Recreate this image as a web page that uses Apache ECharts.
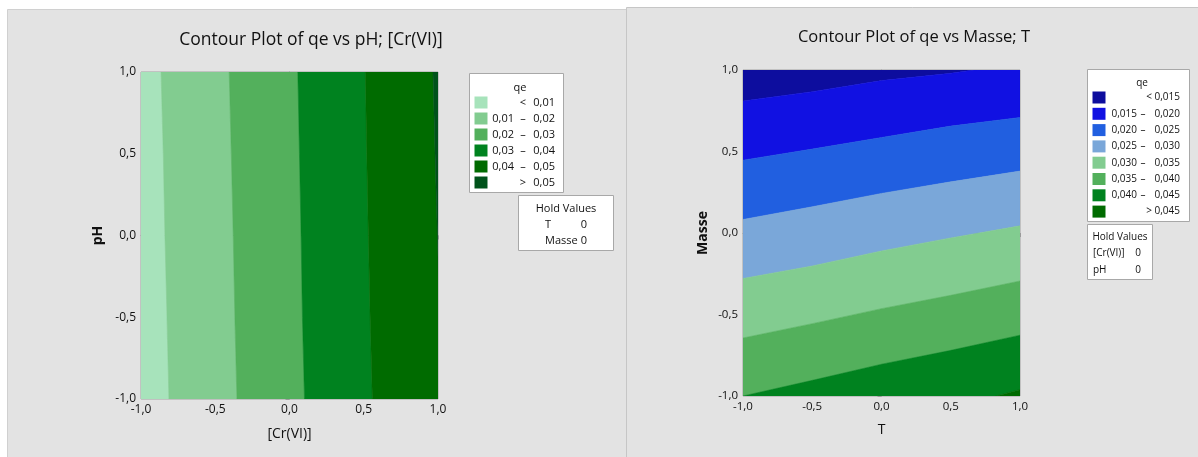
<!DOCTYPE html>
<html>
<head>
<meta charset="utf-8">
<script src="https://cdn.jsdelivr.net/npm/echarts@6/dist/echarts.min.js"></script>
<style>
html,body{margin:0;padding:0;background:#fff;}
#c{width:1198px;height:457px;}
</style>
</head>
<body>
<div id="c"></div>
<script>
// ---------- DATA ----------
const tickValues = [-1, -0.5, 0, 0.5, 1];
const tickLabels = ['-1,0', '-0,5', '0,0', '0,5', '1,0'];

// Left plot: x = [Cr(VI)], y = pH. Contour boundaries given as x-values at each pH level
const pHLevels = [-1, -0.5, 0, 0.5, 1];
const crBoundaries = [
  [-0.812, -0.825, -0.839, -0.850, -0.865],
  [-0.354, -0.368, -0.379, -0.392, -0.406],
  [0.101, 0.087, 0.078, 0.067, 0.056],
  [0.558, 0.543, 0.531, 0.520, 0.511],
  [1.025, 1.011, 0.996, 0.980, 0.966]
];
const leftColors = ['#a7e3bb', '#82cc90', '#53b05c', '#00821f', '#006b00', '#00521a'];
const leftLegend = [['', '<', '0,01'], ['0,01', '–', '0,02'], ['0,02', '–', '0,03'], ['0,03', '–', '0,04'], ['0,04', '–', '0,05'], ['', '>', '0,05']];
const leftHold = [['T', '0'], ['Masse', '0']];

// Right plot: x = T, y = Masse. Contour boundaries given as Masse-values at each T level (top to bottom)
const tLevels = [-1, -0.5, 0, 0.5, 1];
const masseBoundaries = [
  [0.810, 0.867, 0.935, 0.980, 1.040],
  [0.447, 0.515, 0.586, 0.656, 0.709],
  [0.083, 0.161, 0.243, 0.314, 0.380],
  [-0.279, -0.202, -0.110, -0.030, 0.044],
  [-0.644, -0.556, -0.464, -0.382, -0.294],
  [-1.000, -0.904, -0.805, -0.720, -0.627],
  [-1.420, -1.300, -1.190, -1.076, -0.961]
];
const rightColors = ['#0d0d9e', '#1111e2', '#215fe0', '#7aa7d9', '#82cc90', '#53b05c', '#00821f', '#006b00'];
const rightLegend = [['', '<', '0,015'], ['0,015', '–', '0,020'], ['0,020', '–', '0,025'], ['0,025', '–', '0,030'], ['0,030', '–', '0,035'], ['0,035', '–', '0,040'], ['0,040', '–', '0,045'], ['', '>', '0,045']];
const rightHold = [['[Cr(VI)]', '0'], ['pH', '0']];

// ---------- BUILD ----------
const FONT = '"Open Sans", "Noto Sans", sans-serif';

function leftPolys() {
  const polys = [];
  const n = crBoundaries.length;
  for (let i = 0; i <= n; i++) {
    const L = i === 0 ? pHLevels.map(() => -1.3) : crBoundaries[i - 1];
    const R = i === n ? pHLevels.map(() => 1.3) : crBoundaries[i];
    const pts = [];
    pHLevels.forEach((y, k) => pts.push([L[k], y]));
    for (let k = pHLevels.length - 1; k >= 0; k--) pts.push([R[k], pHLevels[k]]);
    polys.push(pts);
  }
  return polys;
}
function rightPolys() {
  const polys = [];
  const n = masseBoundaries.length;
  for (let i = 0; i <= n; i++) {
    const T = i === 0 ? tLevels.map(() => 1.6) : masseBoundaries[i - 1];
    const B = i === n ? tLevels.map(() => -1.6) : masseBoundaries[i];
    const pts = [];
    tLevels.forEach((x, k) => pts.push([x, T[k]]));
    for (let k = tLevels.length - 1; k >= 0; k--) pts.push([tLevels[k], B[k]]);
    polys.push(pts);
  }
  return polys;
}
const LP = leftPolys(), RP = rightPolys();

function contourSeries(idx, polys, colors) {
  return {
    type: 'custom', xAxisIndex: idx, yAxisIndex: idx, clip: true,
    data: polys.map((p, i) => [i, 0]),
    renderItem: function (params, api) {
      const i = params.dataIndex;
      const pts = polys[i].map(p => api.coord(p));
      return {type: 'polygon', shape: {points: pts},
        style: {fill: colors[i], stroke: colors[i], lineWidth: 0.5}};
    }
  };
}

function fmt(v) {
  const i = tickValues.findIndex(t => Math.abs(t - v) < 1e-9);
  return i >= 0 ? tickLabels[i] : '';
}
function axis(name, gap, bold, size) {
  return {
    type: 'value', min: -1, max: 1, interval: 0.5,
    name: name, nameLocation: 'middle', nameGap: gap,
    nameTextStyle: {fontFamily: FONT, fontSize: 14, color: '#111', fontWeight: bold ? 'bold' : 'normal'},
    axisLine: {show: true, lineStyle: {color: '#9a9a9a'}},
    axisTick: {show: true, length: 4, lineStyle: {color: '#9a9a9a'}},
    axisLabel: {formatter: fmt, fontFamily: FONT, fontSize: size, color: '#111', margin: 5},
    splitLine: {show: false}
  };
}

function legendGraphics(box, title, rows, colors, rowH, hold, holdBox, cols) {
  const F = cols.fs + 'px ' + FONT;
  const g = [];
  g.push({type: 'rect', shape: {x: box.x, y: box.y, width: box.w, height: box.h},
    style: {fill: '#ffffff', stroke: '#a8a8a8', lineWidth: 1}, z: 5});
  g.push({type: 'text', x: cols.title, y: box.y + 14, z: 6,
    style: {text: title, font: F, fill: '#111', align: 'center', verticalAlign: 'middle'}});
  rows.forEach((r, i) => {
    const cy = box.y + cols.firstRow + i * rowH;
    g.push({type: 'rect', shape: {x: box.x + 5, y: cy - 6, width: 13, height: 12},
      style: {fill: colors[i]}, z: 6});
    if (r[0]) {
      g.push({type: 'text', x: cols.a, y: cy, z: 6,
        style: {text: r[0], font: F, fill: '#111', align: 'right', verticalAlign: 'middle'}});
      g.push({type: 'text', x: cols.b, y: cy, z: 6,
        style: {text: r[1], font: F, fill: '#111', align: 'center', verticalAlign: 'middle'}});
    } else {
      g.push({type: 'text', x: cols.sym, y: cy, z: 6,
        style: {text: r[1], font: F, fill: '#111', align: 'center', verticalAlign: 'middle'}});
    }
    g.push({type: 'text', x: cols.c, y: cy, z: 6,
      style: {text: r[2], font: F, fill: '#111', align: 'right', verticalAlign: 'middle'}});
  });
  g.push({type: 'rect', shape: {x: holdBox.x, y: holdBox.y, width: holdBox.w, height: holdBox.h},
    style: {fill: '#ffffff', stroke: '#a8a8a8', lineWidth: 1}, z: 5});
  g.push({type: 'text', x: holdBox.x + holdBox.w / 2, y: holdBox.y + 13, z: 6,
    style: {text: 'Hold Values', font: F, fill: '#111', align: 'center', verticalAlign: 'middle'}});
  hold.forEach((h, i) => {
    const cy = holdBox.y + 29 + i * 16.5;
    g.push({type: 'text', x: holdBox.nameX, y: cy, z: 6,
      style: {text: h[0], font: F, fill: '#111', align: 'left', verticalAlign: 'middle'}});
    g.push({type: 'text', x: holdBox.valX, y: cy, z: 6,
      style: {text: h[1], font: F, fill: '#111', align: 'center', verticalAlign: 'middle'}});
  });
  return g;
}

const graphics = [
  {type: 'rect', shape: {x: 7.5, y: 9.5, width: 619, height: 450}, style: {fill: '#e3e3e3', stroke: '#d0d0d0', lineWidth: 1}, z: -10},
  {type: 'rect', shape: {x: 626.5, y: 7.5, width: 575, height: 452}, style: {fill: '#e3e3e3', stroke: '#c6c6c6', lineWidth: 1}, z: -9}
].concat(
  legendGraphics({x: 469.5, y: 73.5, w: 94, h: 119}, 'qe', leftLegend, leftColors, 16, leftHold,
    {x: 518.5, y: 195.5, w: 95, h: 55, nameX: 545, valX: 584},
    {title: 520, firstRow: 29, a: 514, b: 523, sym: 523, c: 555, fs: 11}),
  legendGraphics({x: 1087.5, y: 69.5, w: 102, h: 152}, 'qe', rightLegend, rightColors, 16.3, rightHold,
    {x: 1087.5, y: 224.5, w: 65, h: 55, nameX: 1093, valX: 1138},
    {title: 1142, firstRow: 28, a: 1137, b: 1143, sym: 1149, c: 1180, fs: 10})
);

const option = {
  animation: false,
  backgroundColor: '#ffffff',
  title: [
    {text: 'Contour Plot of qe vs pH; [Cr(VI)]', left: 311, top: 31, padding: 0, textAlign: 'center',
      textStyle: {fontFamily: FONT, fontSize: 17.5, fontWeight: 'normal', color: '#111'}},
    {text: 'Contour Plot of qe vs Masse; T', left: 914, top: 29, padding: 0, textAlign: 'center',
      textStyle: {fontFamily: FONT, fontSize: 16.5, fontWeight: 'normal', color: '#111'}}
  ],
  grid: [
    {left: 141, top: 72, width: 297, height: 327, show: true, borderColor: '#a0a0a0', borderWidth: 1, backgroundColor: 'transparent', containLabel: false},
    {left: 743, top: 70, width: 277, height: 326, show: true, borderColor: '#a0a0a0', borderWidth: 1, backgroundColor: 'transparent', containLabel: false}
  ],
  xAxis: [
    Object.assign(axis('[Cr(VI)]', 28, false, 12), {gridIndex: 0}),
    Object.assign(axis('T', 27, false, 11.5), {gridIndex: 1})
  ],
  yAxis: [
    Object.assign(axis('pH', 36, true, 12), {gridIndex: 0}),
    Object.assign(axis('Masse', 33, true, 11.5), {gridIndex: 1})
  ],
  series: [
    contourSeries(0, LP, leftColors),
    contourSeries(1, RP, rightColors)
  ],
  graphic: graphics
};

const chart = echarts.init(document.getElementById('c'));
chart.setOption(option);
</script>
</body>
</html>
